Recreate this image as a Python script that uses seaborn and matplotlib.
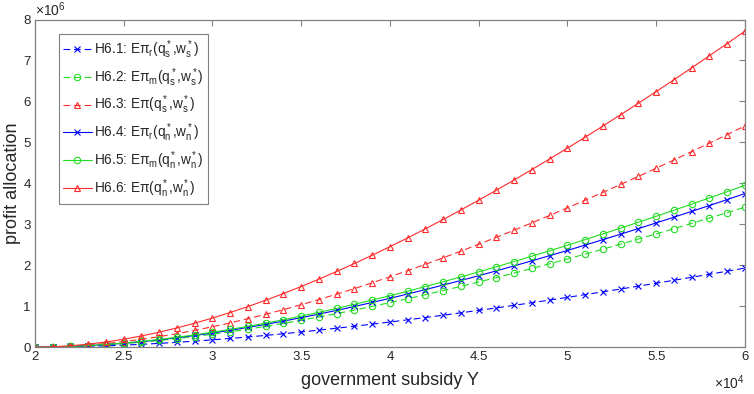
import matplotlib
matplotlib.use("Agg")
import matplotlib.pyplot as plt
import seaborn as sns
from matplotlib.ticker import FuncFormatter

# government subsidy Y (x 1e4) and profits (x 1e6)
subsidy = [2.0, 2.1, 2.2, 2.3, 2.4, 2.5, 2.6, 2.7, 2.8, 2.9,
           3.0, 3.1, 3.2, 3.3, 3.4, 3.5, 3.6, 3.7, 3.8, 3.9,
           4.0, 4.1, 4.2, 4.3, 4.4, 4.5, 4.6, 4.7, 4.8, 4.9,
           5.0, 5.1, 5.2, 5.3, 5.4, 5.5, 5.6, 5.7, 5.8, 5.9, 6.0]

h61 = [0, 0.002, 0.008, 0.018, 0.031, 0.048, 0.068, 0.091, 0.117, 0.146,
       0.178, 0.211, 0.248, 0.286, 0.327, 0.370, 0.415, 0.462, 0.511, 0.561,
       0.613, 0.667, 0.723, 0.779, 0.838, 0.897, 0.958, 1.021, 1.084, 1.149,
       1.215, 1.282, 1.350, 1.419, 1.489, 1.560, 1.632, 1.705, 1.779, 1.854, 1.929]
h62 = [0, 0.004, 0.015, 0.032, 0.055, 0.085, 0.121, 0.162, 0.208, 0.259,
       0.315, 0.374, 0.439, 0.507, 0.580, 0.656, 0.735, 0.819, 0.905, 0.994,
       1.087, 1.182, 1.280, 1.381, 1.484, 1.590, 1.698, 1.808, 1.921, 2.036,
       2.153, 2.271, 2.392, 2.514, 2.639, 2.765, 2.892, 3.022, 3.152, 3.284, 3.418]
h63 = [0, 0.006, 0.023, 0.050, 0.088, 0.135, 0.191, 0.256, 0.328, 0.409,
       0.497, 0.592, 0.694, 0.802, 0.916, 1.036, 1.162, 1.294, 1.429, 1.571,
       1.717, 1.868, 2.023, 2.182, 2.345, 2.512, 2.683, 2.857, 3.036, 3.217,
       3.401, 3.589, 3.780, 3.973, 4.170, 4.369, 4.570, 4.775, 4.981, 5.190, 5.401]
h64 = [0, 0.004, 0.016, 0.035, 0.061, 0.094, 0.133, 0.177, 0.228, 0.284,
       0.345, 0.411, 0.482, 0.556, 0.636, 0.719, 0.807, 0.898, 0.992, 1.091,
       1.192, 1.297, 1.405, 1.515, 1.628, 1.744, 1.863, 1.984, 2.108, 2.234,
       2.361, 2.492, 2.624, 2.759, 2.895, 3.033, 3.173, 3.315, 3.458, 3.603, 3.750]
h65 = [0, 0.004, 0.017, 0.037, 0.064, 0.099, 0.140, 0.187, 0.240, 0.299,
       0.364, 0.433, 0.507, 0.586, 0.670, 0.758, 0.850, 0.946, 1.046, 1.149,
       1.256, 1.366, 1.480, 1.596, 1.715, 1.838, 1.962, 2.090, 2.221, 2.353,
       2.488, 2.625, 2.765, 2.906, 3.050, 3.195, 3.343, 3.492, 3.643, 3.796, 3.951]
h66 = [0, 0.008, 0.033, 0.072, 0.125, 0.193, 0.273, 0.365, 0.469, 0.584,
       0.710, 0.845, 0.991, 1.145, 1.309, 1.480, 1.660, 1.848, 2.042, 2.244,
       2.453, 2.668, 2.890, 3.117, 3.350, 3.589, 3.833, 4.082, 4.337, 4.596,
       4.859, 5.127, 5.400, 5.676, 5.957, 6.241, 6.529, 6.821, 7.116, 7.414, 7.716]

labels = [r"H6.1: E$\pi_r(q_s^*{,}w_s^*)$",
          r"H6.2: E$\pi_m(q_s^*{,}w_s^*)$",
          r"H6.3: E$\pi(q_s^*{,}w_s^*)$",
          r"H6.4: E$\pi_r(q_n^*{,}w_n^*)$",
          r"H6.5: E$\pi_m(q_n^*{,}w_n^*)$",
          r"H6.6: E$\pi(q_n^*{,}w_n^*)$"]

sns.set_style("white")
plt.rcParams["font.family"] = ["Liberation Sans", "DejaVu Sans"]
plt.rcParams["mathtext.fontset"] = "custom"
plt.rcParams["mathtext.rm"] = "Liberation Sans"
plt.rcParams["mathtext.it"] = "Liberation Sans"
plt.rcParams["mathtext.default"] = "regular"

fig = plt.figure(figsize=(7.54, 3.94), dpi=100)
ax = fig.add_axes([0.0464, 0.119, 0.9416, 0.8315])

xs = [v * 1e4 for v in subsidy]
series = [(h61, "#0000ff", "--", "x"),
          (h62, "#22dd22", "--", "o"),
          (h63, "#ff2a2a", "--", "^"),
          (h64, "#0000ff", "-", "x"),
          (h65, "#22dd22", "-", "o"),
          (h66, "#ff2a2a", "-", "^")]

for (vals, col, ls, mk), lab in zip(series, labels):
    ys = [v * 1e6 for v in vals]
    line_kws = dict(color=col, linewidth=0.8, marker=mk,
                    markersize=4 if mk == "x" else 4.6,
                    markerfacecolor="none", markeredgecolor=col,
                    markeredgewidth=0.8)
    if ls == "--":
        line_kws["dashes"] = (6, 3.5)
    sns.lineplot(x=xs, y=ys, ax=ax, label=lab, **line_kws)

ax.set_xlim(2e4, 6e4)
ax.set_ylim(0, 8e6)
ax.set_xticks([v * 1e4 for v in [2, 2.5, 3, 3.5, 4, 4.5, 5, 5.5, 6]])
ax.set_yticks([v * 1e6 for v in range(0, 9)])
ax.xaxis.set_major_formatter(FuncFormatter(lambda v, p: f"{v / 1e4:g}"))
ax.yaxis.set_major_formatter(FuncFormatter(lambda v, p: f"{v / 1e6:g}"))
ax.tick_params(direction="in", length=4, width=0.8, color="#808080",
               labelsize=9.5, top=True, right=True, labelcolor="#262626",
               pad=3)
for s in ax.spines.values():
    s.set_color("#808080")
    s.set_linewidth(0.9)

ax.set_xlabel("government subsidy Y", fontsize=13, color="#262626", labelpad=6)
ax.set_ylabel("profit allocation", fontsize=13, color="#262626", labelpad=2)
ax.text(0.0, 1.003, r"$\times10^{6}$", transform=ax.transAxes,
        fontsize=10, color="#262626", ha="left", va="bottom")
fig.text(0.988, 0.004, r"$\times10^{4}$",
         fontsize=10, color="#262626", ha="right", va="bottom")

leg = ax.legend(loc="upper left", bbox_to_anchor=(0.034, 0.955), fontsize=9.8,
                handlelength=2.1, numpoints=1, fancybox=False, framealpha=1,
                borderpad=0.3, labelspacing=0.38, handletextpad=0.15,
                borderaxespad=0)
leg.get_frame().set_edgecolor("#808080")
leg.get_frame().set_linewidth(0.8)

fig.savefig("out.png", dpi=100)
